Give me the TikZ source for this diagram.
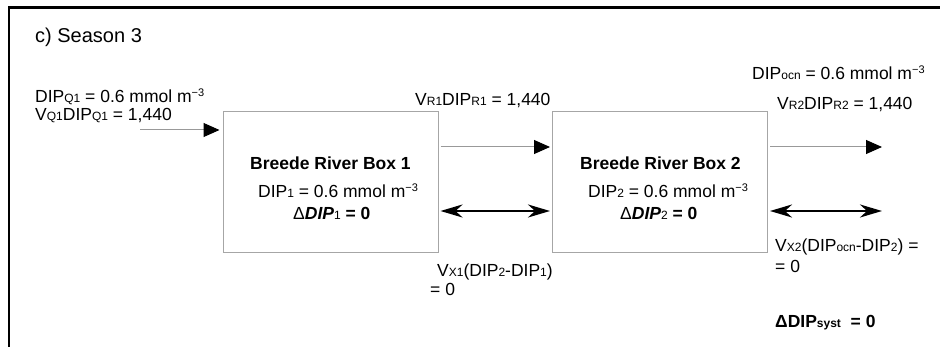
\documentclass[tikz,border=0pt]{standalone}
\usepackage{fontspec}
\setmainfont{Liberation Sans}
\usetikzlibrary{arrows.meta}
% small on-line subscripts and raised exponents
\newcommand\dsub[1]{{\fontsize{12}{12}\selectfont #1}}
\newcommand\dsup[1]{\raisebox{6.5pt}{\fontsize{11}{11}\selectfont #1}}
\begin{document}
\begin{tikzpicture}[x=1pt,y=-1pt,
  lbl/.style={anchor=base west,inner sep=0pt,font=\fontsize{17.5}{21}\selectfont},
  boxnode/.style={draw=black!35,line width=1pt,minimum width=215pt,minimum height=141pt,inner sep=0pt},
  flow/.style={draw=black!40,line width=1pt,-{Triangle[length=16pt,width=14pt,black]}},
  mix/.style={draw=black,line width=2.4pt,{Stealth[length=22pt,width=13pt,inset=7pt]}-{Stealth[length=22pt,width=13pt,inset=7pt]}},
  frame/.style={draw=black,line width=2.6pt}]
\useasboundingbox (0,0) rectangle (940,347);
\clip (0,0) rectangle (940,347);
% outer panel frame (continues past the right and lower edges)
\draw[frame] (8.8,360) -- (8.8,7.8) -- (960,7.8);

\node[lbl,font=\fontsize{20}{24}\selectfont] (title) at (35,43) {c) Season 3};

% the two boxes
\node[boxnode] (b1) at (330.5,182.5) {};
\node[boxnode] (b2) at (660,182.5) {};

\node[lbl,font=\bfseries\fontsize{17.5}{21}\selectfont] (n1) at (250,170) {Breede River Box 1};
\node[lbl] (c1) at (258,198) {DIP\dsub{1} = 0.6 mmol m\dsup{−3}};
\node[lbl] (d1) at (293,220) {Δ\textbf{\textit{DIP}}\dsub{1} \textbf{= 0}};

\node[lbl,font=\bfseries\fontsize{17.5}{21}\selectfont] (n2) at (580,170) {Breede River Box 2};
\node[lbl] (c2) at (588,198) {DIP\dsub{2} = 0.6 mmol m\dsup{−3}};
\node[lbl] (d2) at (620,220) {Δ\textbf{\textit{DIP}}\dsub{2} \textbf{= 0}};

% river inflow
\node[lbl] (q1) at (35,103) {DIP\dsub{Q1} = 0.6 mmol m\dsup{−3}};
\node[lbl] (q2) at (35,121) {V\dsub{Q1}DIP\dsub{Q1} = 1,440};
\coordinate (src) at (140,130);
\draw[flow,shorten >=3pt] (src) -- (src -| b1.west);

% residual flow box 1 -> box 2
\node[lbl] (r1) at (415,106) {V\dsub{R1}DIP\dsub{R1} = 1,440};
\draw[flow,shorten >=2pt,shorten <=2pt] ([yshift=35.5pt]b1.east) -- ([yshift=35.5pt]b2.west);

% residual flow box 2 -> ocean
\node[lbl] (oc) at (752,80) {DIP\dsub{ocn} = 0.6 mmol m\dsup{−3}};
\node[lbl] (r2) at (777,110) {V\dsub{R2}DIP\dsub{R2} = 1,440};
\coordinate (sea1) at (882,147);
\draw[flow,shorten <=2pt] ([yshift=35.5pt]b2.east) -- (sea1);

% exchange fluxes
\draw[mix,shorten >=2pt,shorten <=2pt] ([yshift=-28.5pt]b1.east) -- ([yshift=-28.5pt]b2.west);
\coordinate (sea2) at (882,211);
\draw[mix,shorten <=2pt] ([yshift=-28.5pt]b2.east) -- (sea2);

\node[lbl] (x1) at (437,277) {V\dsub{X1}(DIP\dsub{2}-DIP\dsub{1})};
\node[lbl] (x1b) at (430,296) {= 0};
\node[lbl] (x2) at (775,252) {V\dsub{X2}(DIP\dsub{ocn}-DIP\dsub{2}) =};
\node[lbl] (x2b) at (775,273) {= 0};

\node[lbl,font=\bfseries\fontsize{17.5}{21}\selectfont] (sy) at (775,327) {ΔDIP\dsub{syst}~ = 0};
\end{tikzpicture}
\end{document}
